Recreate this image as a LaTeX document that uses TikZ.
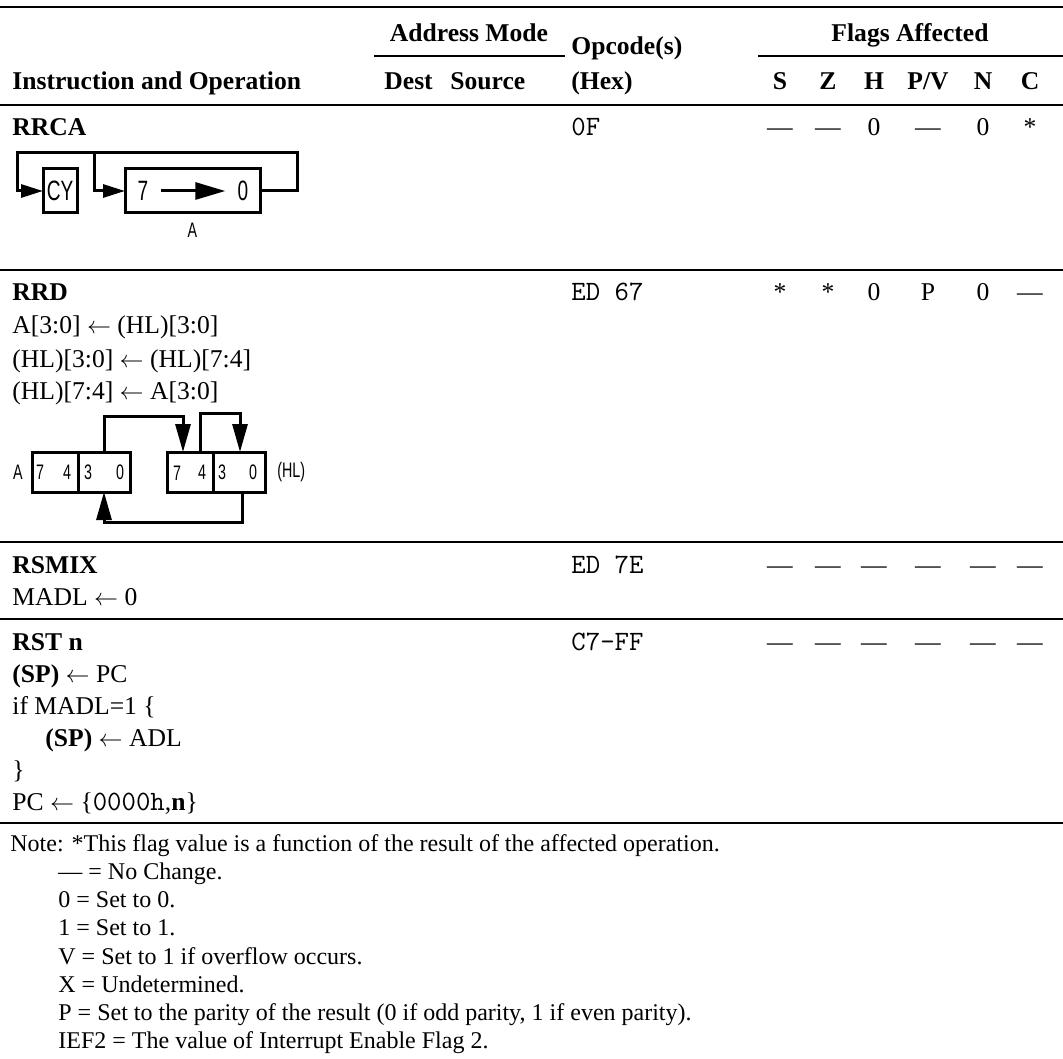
\documentclass[tikz,border=0pt]{standalone}
\usepackage{fontspec}
\setmainfont{Liberation Serif}
\newfontfamily\diagfont[FakeStretch=0.68]{Liberation Sans}
\usepackage{tikz}
\usetikzlibrary{positioning}
\usetikzlibrary{calc,arrows.meta}

\newcommand{\rowsize}{\fontsize{12.8}{15}\selectfont}
\newcommand{\notesize}{\fontsize{12}{14}\selectfont}
\newcommand{\opsize}{\fontsize{14}{15}\selectfont\ttfamily}
\newcommand{\getsarrow}{\ensuremath{\leftarrow}}

\tikzset{
  rule/.style={line width=0.9pt},
  txt/.style={anchor=base west, inner sep=0pt, font=\rowsize},
  notetxt/.style={anchor=base west, inner sep=0pt, font=\notesize},
  head/.style={txt, font=\rowsize\bfseries},
  opc/.style={anchor=base west, inner sep=0pt, font=\opsize},
  flag/.style={anchor=base, inner sep=0pt, font=\rowsize},
  wire/.style={line width=1.5pt},
  regbox/.style={draw, line width=1.5pt, minimum height=22pt, inner sep=0pt, outer sep=0pt,
    font=\diagfont\fontsize{14}{14}\selectfont},
  nibble/.style={regbox, minimum height=20pt},
  dig/.style={inner sep=0pt, font=\diagfont\fontsize{10.5}{11}\selectfont},
  tipS/.style={-{Triangle[length=11pt,width=6.5pt]}},
  tipL/.style={-{Triangle[length=14pt,width=7.5pt]}},
}

\begin{document}
\begin{tikzpicture}[x=0.5pt,y=-0.5pt]
\useasboundingbox (0,0) rectangle (1063,1058);

% Table rules
\draw[rule] (0,7) -- (1063,7);
\draw[rule] (374,56) -- (565,56);
\draw[rule] (758,56) -- (1063,56);
\draw[rule] (0,105) -- (1063,105);
\draw[rule] (0,270) -- (1063,270);
\draw[rule] (0,542) -- (1063,542);
\draw[rule] (0,619) -- (1063,619);
\draw[rule] (0,823) -- (1063,823);

% Header
\node[head, anchor=base] (addr) at (469,42) {Address Mode};
\node[head] (opcs) at (571,55) {Opcode(s)};
\node[head, anchor=base] (flags) at (910,42) {Flags Affected};
\node[head] (instr) at (12,90) {Instruction and Operation};
\node[head] (dest) at (384,90) {Dest};
\node[head] (src) at (450,90) {Source};
\node[head] (hex) at (571,90) {(Hex)};
\foreach \fx/\fl [count=\i] in {780/S,828/Z,874/H,928/{P/V},983/N,1030/C}
  \node[head, anchor=base] (hf\i) at (\fx,90) {\fl};

% Row baselines
\coordinate (rrcarow) at (0,136);
\coordinate (rrdrow) at (0,301);
\coordinate (rsmixrow) at (0,573);
\coordinate (rstrow) at (0,650);

% RRCA
\node[head] (rrca) at (12,136) {RRCA};
\node[opc] (rrcaop) at (571,136) {0F};
\foreach \fv [count=\i] in {---,---,0,---,0,*}
  \node[flag] (rrcaf\i) at (hf\i.base |- rrcarow) {\fv};

% RRCA diagram
\node[regbox, minimum width=17pt] (cy) at (60,191) {CY};
\node[regbox, minimum width=67.5pt] (areg) at (192.5,191) {};
\node[inner sep=0pt, font=\diagfont\fontsize{14}{14}\selectfont] (a7) at (143,191) {7};
\node[inner sep=0pt, font=\diagfont\fontsize{14}{14}\selectfont] (a0) at (243,191) {0};
\node[inner sep=0pt, below=5pt of areg, font=\diagfont\fontsize{10.5}{10}\selectfont] (alab) {A};
\draw[wire, -{Triangle[length=15pt,width=8.5pt]}, shorten <=6pt, shorten >=6pt] (a7) -- (a0);
\coordinate (rtop) at (297,153);
\coordinate (ltop) at (17,153);
\coordinate (split) at (94,153);
\draw[wire, tipS] (areg.east) -| (rtop) -- (ltop) |- (cy.west);
\draw[wire, tipS] (split) |- (areg.west);

% RRD
\node[head] (rrd) at (12,301) {RRD};
\node[txt] (rrd1) at (12,334) {A[3:0] \getsarrow{} (HL)[3:0]};
\node[txt] (rrd2) at (12,367) {(HL)[3:0] \getsarrow{} (HL)[7:4]};
\node[txt] (rrd3) at (12,400) {(HL)[7:4] \getsarrow{} A[3:0]};
\node[opc] (rrdop) at (571,301) {ED 67};
\foreach \fv [count=\i] in {*,*,0,P,0,---}
  \node[flag] (rrdf\i) at (hf\i.base |- rrdrow) {\fv};

% RRD diagram
\node[nibble, minimum width=23pt] (ahi) at (55,472) {};
\node[nibble, minimum width=26pt, right=0pt of ahi] (alo) {};
\node[nibble, minimum width=23pt] (hhi) at (190,472) {};
\node[nibble, minimum width=26pt, right=0pt of hhi] (hlo) {};
\node[dig, left=4.5pt of ahi] (alab2) {A};
\node[dig, right=6pt of hlo] (hllab) {(HL)};
\node[dig] (ad7) at (40,472) {7};
\node[dig] (ad4) at (67,472) {4};
\node[dig] (ad3) at (88,472) {3};
\node[dig] (ad0) at (120,472) {0};
\node[dig] (hd7) at (177,473) {7};
\node[dig] (hd4) at (202,472) {4};
\node[dig] (hd3) at (222,472) {3};
\node[dig] (hd0) at (253,472) {0};
\coordinate (t1) at (183,416);
\coordinate (t2) at (200,413);
\coordinate (t3) at (240,413);
\coordinate (b1) at (242,522);
\draw[wire, tipL] (alo.north) |- (t1) -- (t1 |- hhi.north);
\draw[wire, tipL] (t2 |- hhi.north) -- (t2) -- (t3) -- (t3 |- hlo.north);
\draw[wire, tipL] (b1 |- hlo.south) -- (b1) -| (alo.south);

% RSMIX
\node[head] (rsmix) at (12,573) {RSMIX};
\node[txt] (rsmix1) at (12,605) {MADL \getsarrow{} 0};
\node[opc] (rsmixop) at (571,573) {ED 7E};
\foreach \fv [count=\i] in {---,---,---,---,---,---}
  \node[flag] (rsmixf\i) at (hf\i.base |- rsmixrow) {\fv};

% RST n
\node[head] (rst) at (12,650) {RST n};
\node[txt] (rst1) at (12,682) {\textbf{(SP)} \getsarrow{} PC};
\node[txt] (rst2) at (12,714) {if MADL=1 \{};
\node[txt] (rst3) at (45,746) {\textbf{(SP)} \getsarrow{} ADL};
\node[txt] (rst4) at (12,778) {\}};
\node[txt] (rst5) at (12,810) {PC \getsarrow{} \{{\opsize 0000h},\textbf{n}\}};
\node[opc] (rstop) at (571,650) {C7-FF};
\foreach \fv [count=\i] in {---,---,---,---,---,---}
  \node[flag] (rstf\i) at (hf\i.base |- rstrow) {\fv};

% Notes
\node[notetxt] (note) at (10,851) {Note: *This flag value is a function of the result of the affected operation.};
\node[notetxt] (n1) at (58,879) {--- = No Change.};
\node[notetxt] (n2) at (58,907) {0 = Set to 0.};
\node[notetxt] (n3) at (58,935) {1 = Set to 1.};
\node[notetxt] (n4) at (58,964) {V = Set to 1 if overflow occurs.};
\node[notetxt] (n5) at (58,992) {X = Undetermined.};
\node[notetxt] (n6) at (58,1020) {P = Set to the parity of the result (0 if odd parity, 1 if even parity).};
\node[notetxt] (n7) at (58,1048) {IEF2 = The value of Interrupt Enable Flag 2.};

\end{tikzpicture}
\end{document}
